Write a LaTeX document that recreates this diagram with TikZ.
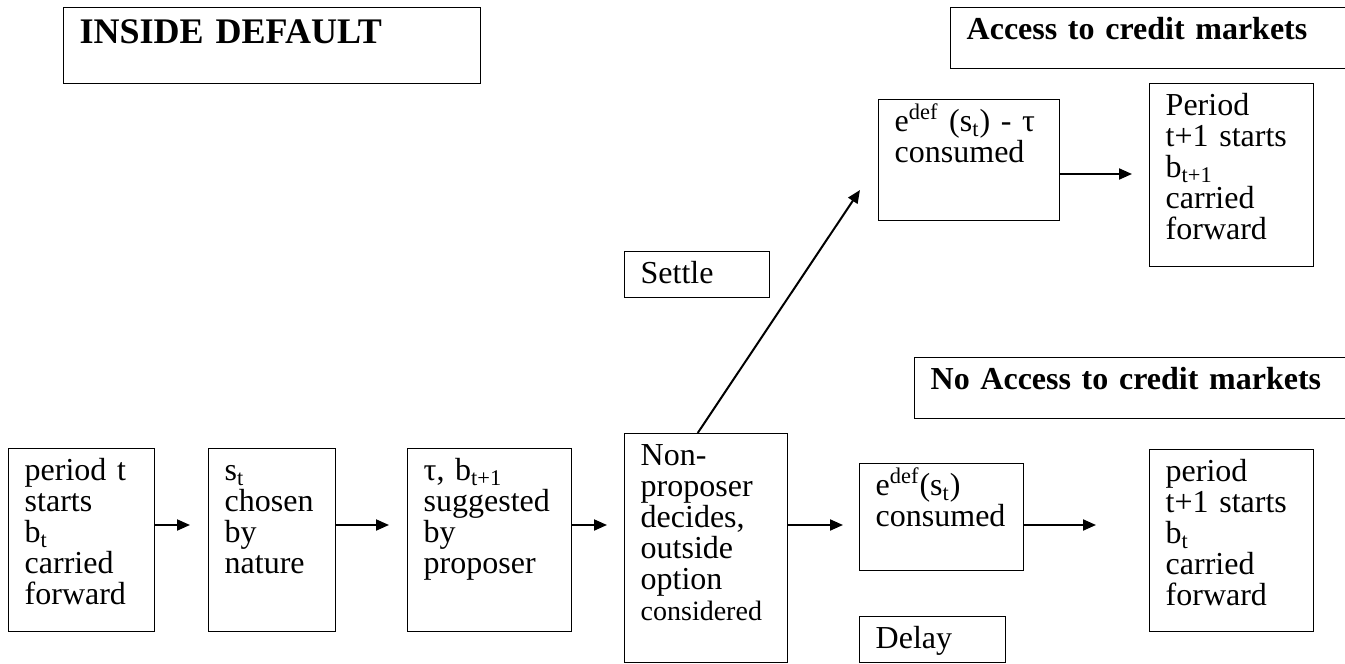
\documentclass[tikz,border=0pt]{standalone}
\usepackage{fontspec}
\setmainfont{Liberation Serif}
\usetikzlibrary{arrows.meta}

\newcommand{\stagefont}{\fontsize{16pt}{15.5pt}\selectfont}
\newcommand{\headfont}{\fontsize{16pt}{18pt}\selectfont\bfseries}

\begin{document}
\begin{tikzpicture}[x=0.5pt,y=-0.5pt,
  stage/.style={draw,line width=0.7pt,anchor=north west,align=left,
    inner xsep=8pt,inner ysep=5pt,text height=11pt,font=\stagefont},
  head/.style={stage,font=\headfont},
  flow/.style={-{Triangle[length=6.5pt,width=5.5pt]},line width=1pt}]
  \useasboundingbox (0,0) rectangle (1345,664);
  \clip (0,0) rectangle (1345,664);

  % headings
  \node[head,font=\fontsize{18pt}{20pt}\selectfont\bfseries,text height=13pt,
        text width=192.5pt,text depth=15pt] (title) at (63,7) {INSIDE DEFAULT};
  \node[head,text width=194pt,text depth=9.5pt] (access) at (950,7) {Access to credit markets};
  \node[head,text width=212pt,text depth=9.5pt] (noaccess) at (914,357) {No Access to credit markets};

  % one period in default
  \node[stage,text width=57pt,text depth=70.5pt] (start) at (8,448)
       {period t\\starts\\b\textsubscript{t}\\carried\\forward};
  \node[stage,text width=47.5pt,text depth=70.5pt] (nature) at (208,448)
       {s\textsubscript{t}\\chosen\\by\\nature};
  \node[stage,text width=66pt,text depth=70.5pt] (proposal) at (407,448)
       {τ, b\textsubscript{t+1}\\suggested\\by\\proposer};
  \node[stage,text width=65.5pt,text depth=93.5pt] (decide) at (624,433)
       {Non-\\proposer\\decides,\\outside\\option\\{\fontsize{14pt}{15.5pt}\selectfont considered}};

  % delay branch
  \node[stage,text width=66pt,text depth=32.5pt] (delaycons) at (859,463)
       {e\textsuperscript{def}(s\textsubscript{t})\\consumed};
  \node[stage,text width=57pt,text depth=2pt] (delay) at (859,616) {Delay};
  \node[stage,text width=66pt,text depth=70pt] (nextdelay) at (1149,449)
       {period\\t+1 starts\\b\textsubscript{t}\\carried\\forward};

  % settle branch
  \node[stage,text width=56.5pt,text depth=2pt] (settle) at (624,251) {Settle};
  \node[stage,text width=74.5pt,text depth=39.5pt] (settlecons) at (878,99)
       {e\textsuperscript{def} (s\textsubscript{t}) - τ\\consumed};
  \node[stage,text width=66pt,text depth=70.5pt] (nextsettle) at (1149,83)
       {Period\\t+1 starts\\b\textsubscript{t+1}\\carried\\forward};

  \coordinate (row) at (0,525);
  \coordinate (toprow) at (0,174);
  \coordinate (settletip) at (860,190);

  \draw[flow,shorten >=9pt] (start.east |- row) -- (nature.west |- row);
  \draw[flow,shorten >=9pt] (nature.east |- row) -- (proposal.west |- row);
  \draw[flow,shorten >=8.5pt] (proposal.east |- row) -- (decide.west |- row);
  \draw[flow,shorten >=8pt] (decide.east |- row) -- (delaycons.west |- row);
  \draw[flow,shorten >=26.5pt] (delaycons.east |- row) -- (nextdelay.west |- row);
  \draw[flow] ([xshift=-4.25pt]decide.north) -- (settletip);
  \draw[flow,shorten >=8.5pt] (settlecons.east |- toprow) -- (nextsettle.west |- toprow);
\end{tikzpicture}
\end{document}
